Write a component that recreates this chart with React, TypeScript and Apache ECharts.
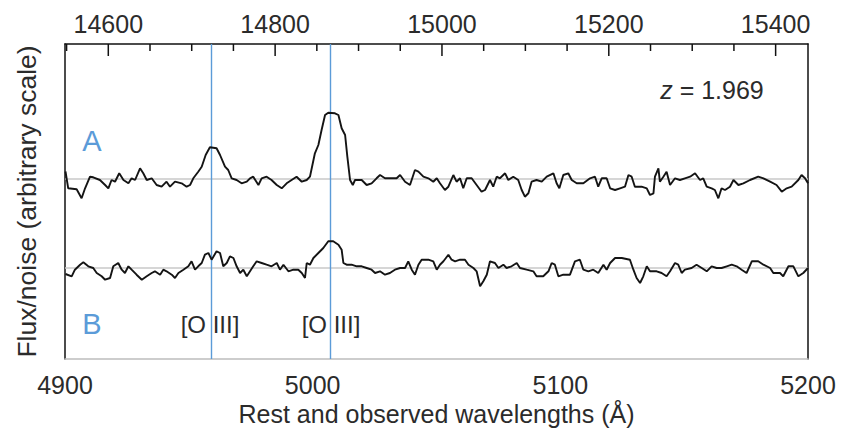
import React, { useEffect, useRef } from "react";
import * as echarts from "echarts";

const Z = 1.969;
const ONE_PLUS_Z = 1 + Z;
const restMin = 4900;
const restMax = 5200;
const restInterval = 100;
const obsMajorTicks = [14600, 14800, 15000, 15200, 15400];
const obsMinorTicks = [14550, 14650, 14700, 14750, 14850, 14900, 14950, 15050, 15100, 15150, 15250, 15300, 15350];
const oiiiLines = [4959, 5007];
const baseA = 18.05;
const baseB = 9.1;
const yMin = 0;
const yMax = 31.5;

const waveA = [
  4900.2, 4901.3, 4904.7, 4906.7, 4908.1, 4910.1, 4911.4, 4914.1, 4916.2, 4917.5, 4918.8, 4920.2, 4921.9, 4923.6, 4925.6,
  4926.9, 4928.3, 4930.3, 4931.6, 4933.0, 4935.0, 4937.0, 4939.0, 4941.0, 4942.4, 4944.4, 4947.1, 4949.1, 4950.5, 4951.8,
  4953.8, 4955.2, 4956.8, 4958.5, 4961.2, 4962.6, 4964.6, 4965.9, 4967.3, 4969.3, 4971.3, 4973.4, 4974.7, 4976.0, 4978.1,
  4979.4, 4981.4, 4983.4, 4985.5, 4987.5, 4989.5, 4991.5, 4993.5, 4995.6, 4997.6, 4998.9, 5000.9, 5002.3, 5003.6, 5005.0,
  5006.3, 5009.0, 5010.4, 5011.7, 5013.1, 5014.0, 5015.1, 5016.2,
  5017.1, 5019.8, 5021.8, 5023.8, 5025.8, 5027.2, 5029.2, 5031.2, 5033.9, 5035.3, 5037.3, 5039.3, 5041.3, 5042.7, 5044.7,
  5046.7, 5048.7, 5050.1, 5051.4, 5053.4, 5054.8, 5056.8, 5058.1, 5059.5, 5060.8, 5062.2, 5064.2, 5066.2, 5068.2, 5069.6,
  5071.6, 5072.9, 5074.3, 5075.6, 5077.7, 5079.0, 5081.0, 5083.0, 5084.4, 5085.7, 5087.1, 5088.4, 5090.4, 5092.5, 5094.5,
  5097.2, 5098.5, 5099.6, 5101.2, 5103.2, 5104.6, 5106.6, 5109.3, 5112.0, 5114.0, 5115.3,
  5116.7, 5118.7, 5120.1, 5122.1, 5124.1, 5126.1, 5127.5, 5128.8, 5130.1, 5132.8, 5134.9, 5136.2, 5137.6, 5138.2, 5139.6,
  5140.2, 5141.6, 5142.9, 5144.3, 5146.3, 5148.3, 5150.3, 5152.4, 5154.4, 5156.4, 5157.7, 5159.1, 5161.1, 5162.4, 5163.8,
  5165.1, 5166.5, 5168.5, 5169.9, 5171.9, 5173.9, 5176.6, 5179.9, 5182.0, 5184.7, 5187.3, 5189.4, 5191.4, 5193.4, 5196.1,
  5197.4, 5198.8, 5200.0,
];
const fluxA = [
  0.7, -0.98, -1.08, -1.98, -0.98, 0.18, 0.12, -0.15, -0.65, -0.98, -0.15, -0.32, 0.52, -0.15, -0.48,
  0.02, -0.15, 1.02, 0.52, -0.15, 0.02, -0.65, -0.82, -0.32, -0.82, -0.32, -0.48, -0.82, -0.65, 0.02,
  0.68, 1.18, 2.35, 3.12, 3.02, 2.35, 1.18, 0.85, 0.02, -0.15, -0.48, -0.32, 0.02, 0.18, -0.65,
  0.02, 0.18, -0.15, -0.65, -0.98, -0.48, -0.15, 0.18, -0.32, -0.15, 0.18, 2.52, 3.35, 4.85, 6.35,
  6.58, 6.52, 6.35, 5.02, 4.35, 2.18, -0.15, -0.65,
  -0.15, -0.15, -0.65, -0.48, 0.02, 0.35, 0.02, 0.02, 0.02, 0.35, -0.32, -0.65, 0.85, 0.68, 0.18,
  0.02, -0.32, 0.02, -0.48, -1.15, -0.82, 0.35, -0.32, 0.02, -0.98, 0.02, 0.02, -0.65, -1.32, -1.15,
  -0.15, -0.82, 0.18, 0.02, 0.52, -0.15, 0.18, -0.15, -1.15, -1.82, -1.48, -0.32, -0.15, -0.32, 0.18,
  0.52, -0.48, -0.98, 0.35, 0.52, -0.15, -0.48, -0.48, 0.02, 0.18, -0.82,
  0.02, 0.02, -0.98, -1.15, -0.98, -0.82, 0.35, 0.18, -0.82, -0.82, -0.98, -1.65, -1.48, 0.18, 1.02,
  -0.32, 0.18, 0.68, -0.65, 0.02, -0.15, 0.02, 0.18, 0.52, -0.15, 0.02, -0.82, -0.98, -1.15, -1.98,
  -0.98, -1.15, -0.82, -0.15, -0.65, -0.48, -0.15, 0.18, 0.02, -0.32, -0.65, -1.32, -0.98, -0.82, -0.15,
  0.35, 0.02, -0.48,
];

const waveB = [
  4900.2, 4902.7, 4904.0, 4906.1, 4907.4, 4909.4, 4911.4, 4912.8, 4914.8, 4916.2, 4918.2, 4919.5, 4921.5, 4922.9, 4924.2,
  4925.6, 4926.9, 4928.9, 4931.0, 4933.0, 4935.0, 4936.3, 4938.4, 4939.7, 4941.0, 4943.1, 4944.4, 4945.8, 4947.8, 4949.8,
  4951.1, 4952.5, 4953.8, 4955.2, 4956.5, 4957.9, 4959.2, 4961.2, 4962.6, 4963.9, 4965.3, 4966.6, 4968.0, 4969.3, 4970.7,
  4972.0, 4973.4, 4974.7, 4976.0, 4977.4, 4979.4, 4981.4, 4983.4, 4985.5, 4986.8, 4988.2, 4990.2, 4992.2, 4994.2, 4995.6,
  4996.9, 4997.6, 4998.9, 5000.3, 5002.3, 5004.3, 5006.3, 5008.3, 5010.4, 5011.7, 5012.4, 5013.7, 5015.7,
  5017.8, 5019.8, 5021.8, 5023.8, 5025.2, 5027.2, 5029.2, 5031.2, 5033.2, 5035.3, 5037.3, 5038.6, 5040.0, 5041.3, 5042.7,
  5044.0, 5046.7, 5048.7, 5050.1, 5051.4, 5052.8, 5054.8, 5056.1, 5057.5, 5059.5, 5061.5, 5062.9, 5064.9, 5066.2, 5067.6,
  5068.9, 5070.3, 5071.6, 5073.6, 5075.0, 5077.0, 5078.3, 5080.3, 5082.4, 5083.7, 5086.4, 5089.1, 5090.4, 5093.1, 5095.2,
  5096.5, 5097.8, 5099.2, 5101.2, 5103.9, 5105.9, 5107.9, 5109.3, 5111.3, 5113.3, 5115.3,
  5117.4, 5118.7, 5120.1, 5122.1, 5124.8, 5128.1, 5129.5, 5130.8, 5132.2, 5133.5, 5134.9, 5136.2, 5138.9, 5140.9, 5142.9,
  5144.3, 5146.3, 5147.6, 5149.0, 5150.3, 5153.0, 5155.0, 5157.1, 5159.1, 5161.1, 5163.1, 5165.1, 5167.2, 5169.2, 5171.2,
  5173.2, 5175.2, 5177.3, 5179.9, 5182.0, 5184.7, 5186.0, 5188.7, 5190.0, 5192.1, 5194.1, 5196.1, 5198.1, 5200.0,
];
const fluxB = [
  -0.6, -0.83, -0.17, 0.33, 0.57, 0.17, 0, -0.5, -0.83, -1.17, -1.0, 0.17, 0.5, -0.17, -0.5,
  0.17, -0.17, -0.67, -1.17, -0.83, -0.5, -0.33, -0.67, -0.17, -0.33, -0.67, -1.0, -0.5, -0.17, 0.17,
  0.67, -0.17, 0.17, 0.5, 1.33, 1.5, 0.83, 1.67, 1.5, 0.17, 0.5, 1.17, 1.0, 0.17, -0.5,
  -0.17, -0.83, -0.33, 0.17, 0.67, 0.5, 0.33, 0.17, 0.5, -0.17, 0.33, -0.33, -0.17, -0.17, -0.5,
  -1.0, 0.5, 0.33, 1.0, 1.5, 2.0, 2.67, 2.67, 2.33, 1.83, 0.5, 0.33, 0.33,
  0.17, 0.17, 0, -0.17, -0.5, -0.33, -0.67, -0.5, -0.17, 0, 0, 0.67, -0.17, -0.67, 0.33,
  0.83, 0.83, 0.67, -0.17, 0.33, 0.67, 1.33, 0.83, 0.67, 0.83, 0.83, 0.33, 0, -0.33, -1.83,
  -1.33, -0.67, 0.67, 0.5, 0, 0.33, 0, 0.17, 0.5, 0, -0.17, -0.33, -0.83, -0.83, -0.33,
  0.5, 0.33, -0.83, -0.67, -0.67, 0.67, 0.83, -0.17, -0.33, -0.17, -0.5,
  0.33, -0.17, 0.5, 1.0, 1.0, 0.83, -0.17, -1.0, -1.5, -0.83, 0.17, -0.33, -0.33, -0.5, -0.83,
  -0.33, 0.5, 0.33, -0.5, -0.17, 0, 0.33, 0, -0.33, 0.17, 0, 0, 0.17, 0.33, 0.17,
  -0.17, -0.5, 0.67, 0.67, 0.33, 0, -0.5, -0.5, -0.83, 0.17, 0.17, -0.83, -0.5, 0,
];

const FONT = "'Liberation Sans', Arial, Helvetica, sans-serif";
const TEXT = "#2b2b2b";
const BLUE = "#5b9bd8";

export default function App() {
  const ref = useRef<HTMLDivElement>(null);
  useEffect(() => {
    document.body.style.margin = "0";
    if (!ref.current) return;
    const chart = echarts.init(ref.current, undefined, { renderer: "svg" });
    const fmt = (v: number) => String(Math.round(v));
    const dataA = waveA.map((w, i) => [w, baseA + fluxA[i]]);
    const dataB = waveB.map((w, i) => [w, baseB + fluxB[i]]);
    chart.setOption({
      animation: false,
      textStyle: { fontFamily: FONT },
      grid: { left: 65, right: 36, top: 44, bottom: 79, containLabel: false },
      xAxis: [
        {
          type: "value",
          position: "bottom",
          min: restMin,
          max: restMax,
          interval: restInterval,
          axisLine: { show: true, onZero: false, lineStyle: { color: "#bdbdbd", width: 1.5 } },
          axisTick: { show: false },
          splitLine: { show: false },
          axisLabel: { fontSize: 25, color: TEXT, margin: 13, formatter: fmt, fontFamily: FONT },
          name: "Rest and observed wavelengths (Å)",
          nameLocation: "middle",
          nameGap: 42,
          nameTextStyle: { fontSize: 25, color: TEXT, fontFamily: FONT },
        },
        {
          type: "value",
          position: "top",
          min: restMin * ONE_PLUS_Z,
          max: restMax * ONE_PLUS_Z,
          axisLine: { show: true, onZero: false, lineStyle: { color: "#111", width: 1.5 } },
          axisTick: { show: false },
          axisLabel: { show: false },
          splitLine: { show: false },
        },
      ],
      yAxis: [
        {
          type: "value",
          position: "left",
          min: yMin,
          max: yMax,
          axisLine: { show: true, onZero: false, lineStyle: { color: "#111", width: 1.5 } },
          axisTick: { show: false },
          axisLabel: { show: false },
          splitLine: { show: false },
          name: "Flux/noise (arbitrary scale)",
          nameLocation: "middle",
          nameGap: 25,
          nameTextStyle: { fontSize: 26.5, color: TEXT, fontFamily: FONT },
        },
        {
          type: "value",
          position: "right",
          min: yMin,
          max: yMax,
          axisLine: { show: true, onZero: false, lineStyle: { color: "#111", width: 1.5 } },
          axisTick: { show: false },
          axisLabel: { show: false },
          splitLine: { show: false },
        },
      ],
      series: [
        {
          type: "line",
          xAxisIndex: 0,
          yAxisIndex: 0,
          data: dataA,
          showSymbol: false,
          symbol: "none",
          lineStyle: { color: "#141414", width: 1.9 },
          z: 3,
          markLine: {
            silent: true,
            symbol: "none",
            label: { show: false },
            lineStyle: { color: "#c9c9c9", width: 1.5, type: "solid" },
            data: [{ yAxis: baseA }, { yAxis: baseB }],
            z: 1,
          },
        },
        {
          type: "line",
          xAxisIndex: 0,
          yAxisIndex: 0,
          data: dataB,
          showSymbol: false,
          symbol: "none",
          lineStyle: { color: "#141414", width: 1.9 },
          z: 3,
          markLine: {
            silent: true,
            symbol: "none",
            label: { show: false },
            lineStyle: { color: BLUE, width: 1.4, type: "solid" },
            data: oiiiLines.map((w) => ({ xAxis: w })),
            z: 2,
          },
        },
        {
          type: "line",
          xAxisIndex: 1,
          yAxisIndex: 1,
          data: [[obsMajorTicks[2], baseA]],
          symbol: "none",
          showSymbol: false,
          silent: true,
          lineStyle: { opacity: 0 },
        },
      ],
    });

    // observed-frame ticks and labels, placed through the chart's own rest-frame scale (obs = rest * (1+z))
    const topY = chart.convertToPixel({ yAxisIndex: 0 }, yMax) as number;
    const xOf = (obs: number) => chart.convertToPixel({ xAxisIndex: 0 }, obs / ONE_PLUS_Z) as number;
    const tickStyle = { stroke: "#111", lineWidth: 1.5 };
    const obsGraphics: any[] = [];
    obsMajorTicks.forEach((v) => {
      const x = xOf(v);
      obsGraphics.push({ type: "line", shape: { x1: x, y1: topY, x2: x, y2: topY + 12 }, style: tickStyle, silent: true });
      obsGraphics.push({
        type: "text",
        x,
        y: topY - 8,
        style: { text: fmt(v), fontSize: 25, fill: TEXT, align: "center", verticalAlign: "bottom", fontFamily: FONT },
        silent: true,
      });
    });
    obsMinorTicks.forEach((v) => {
      const x = xOf(v);
      obsGraphics.push({ type: "line", shape: { x1: x, y1: topY, x2: x, y2: topY + 7 }, style: tickStyle, silent: true });
    });

    chart.setOption({
      graphic: [
        { type: "text", x: 92, y: 141, style: { text: "A", fontSize: 29, fill: BLUE, align: "center", verticalAlign: "middle", fontFamily: FONT } },
        { type: "text", x: 92, y: 324, style: { text: "B", fontSize: 29, fill: BLUE, align: "center", verticalAlign: "middle", fontFamily: FONT } },
        { type: "text", x: 210, y: 324, style: { text: "[O III]", fontSize: 24, fill: TEXT, align: "center", verticalAlign: "middle", fontFamily: FONT } },
        { type: "text", x: 331, y: 324, style: { text: "[O III]", fontSize: 24, fill: TEXT, align: "center", verticalAlign: "middle", fontFamily: FONT } },
        {
          type: "text",
          x: 712,
          y: 90,
          style: {
            text: "{i|z} = 1.969",
            fontSize: 25,
            fill: TEXT,
            align: "center",
            verticalAlign: "middle",
            fontFamily: FONT,
            rich: { i: { fontStyle: "italic", fontSize: 25, fill: TEXT, fontFamily: FONT } },
          },
        },
        ...obsGraphics,
      ],
    });
    return () => chart.dispose();
  }, []);
  return <div ref={ref} style={{ width: 844, height: 438 }} />;
}
